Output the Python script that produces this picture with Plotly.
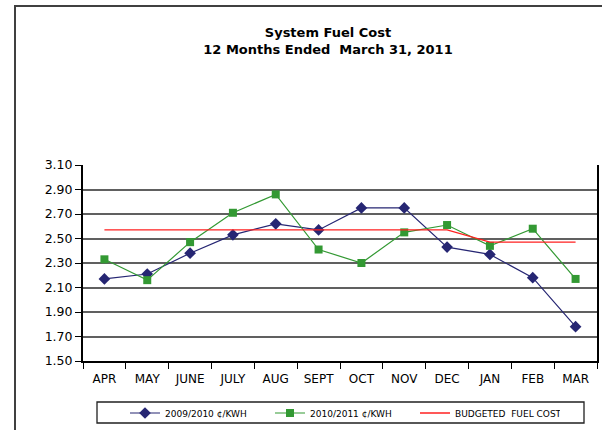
import plotly.graph_objects as go

months = ["APR", "MAY", "JUNE", "JULY", "AUG", "SEPT", "OCT", "NOV", "DEC", "JAN", "FEB", "MAR"]
fy2010 = [2.17, 2.21, 2.38, 2.53, 2.62, 2.57, 2.75, 2.75, 2.43, 2.37, 2.18, 1.78]
fy2011 = [2.33, 2.16, 2.47, 2.71, 2.86, 2.41, 2.30, 2.55, 2.61, 2.44, 2.58, 2.17]
budget = [2.57, 2.57, 2.57, 2.57, 2.57, 2.57, 2.57, 2.57, 2.57, 2.47, 2.47, 2.47]
ytick_vals = [1.50, 1.70, 1.90, 2.10, 2.30, 2.50, 2.70, 2.90, 3.10]

W, H = 602, 430
L, R, T, B = 83, 5, 165, 69
pw, ph = W - L - R, H - T - B

def px_x(x):
    return (x - L) / pw

def px_y(y):
    return (H - B - y) / ph

fig = go.Figure()
fig.add_trace(go.Scatter(
    x=months, y=fy2010, name="2009/2010 ¢/KWH", mode="lines+markers",
    line=dict(color="#262673", width=1.2),
    marker=dict(symbol="diamond", size=9, color="#262673"),
))
fig.add_trace(go.Scatter(
    x=months, y=fy2011, name="2010/2011 ¢/KWH", mode="lines+markers",
    line=dict(color="#339933", width=1.2),
    marker=dict(symbol="square", size=8, color="#339933"),
))
fig.add_trace(go.Scatter(
    x=months, y=budget, name="BUDGETED  FUEL COST", mode="lines",
    line=dict(color="#FF2020", width=1.3),
))

shapes = [
    # outer chart frame
    dict(type="rect", xref="paper", yref="paper",
         x0=px_x(15), x1=px_x(640), y0=px_y(470), y1=px_y(6),
         line=dict(color="#404040", width=2), fillcolor="rgba(0,0,0,0)", layer="below"),
    # legend box
    dict(type="rect", xref="paper", yref="paper",
         x0=px_x(97), x1=px_x(584), y0=px_y(423), y1=px_y(402),
         line=dict(color="#202020", width=1.3), fillcolor="rgba(0,0,0,0)"),
]

fig.update_layout(
    width=W, height=H,
    margin=dict(l=L, r=R, t=T, b=B, autoexpand=False),
    paper_bgcolor="white", plot_bgcolor="white",
    font=dict(family="DejaVu Sans", size=12, color="#000000"),
    title=dict(
        text="<b>System Fuel Cost<br>12 Months Ended  March 31, 2011</b>",
        x=328 / W, xanchor="center", xref="container",
        y=1 - 37 / H, yanchor="middle", yref="container",
        font=dict(family="DejaVu Sans", size=13, color="#000000"),
    ),
    showlegend=True,
    legend=dict(
        orientation="h", x=px_x(125), xanchor="left",
        y=px_y(413), yanchor="middle",
        font=dict(family="DejaVu Sans", size=9, color="#000000"),
        entrywidth=100, entrywidthmode="pixels",
        bgcolor="rgba(0,0,0,0)", borderwidth=0,
    ),
    shapes=shapes,
    xaxis=dict(
        type="category", range=[-0.5, 11.5],
        tickson="boundaries", ticks="outside", ticklen=6, tickcolor="#000000",
        showline=True, linecolor="#000000", linewidth=2,
        showgrid=False, zeroline=False, ticklabelstandoff=6,
        tickfont=dict(family="DejaVu Sans", size=12),
    ),
    yaxis=dict(
        range=[1.5, 3.1], tickvals=ytick_vals, tickformat=".2f",
        ticks="outside", ticklen=6, tickcolor="#000000",
        showline=True, linecolor="#000000", linewidth=2, mirror=True,
        showgrid=True, gridcolor="#606060", gridwidth=2, zeroline=False,
        tickfont=dict(family="DejaVu Sans", size=12.5),
    ),
)

fig.write_html(
    "out.html",
    config={"displayModeBar": False},
    post_script="document.body.style.margin='0';document.body.style.overflow='hidden';",
)
